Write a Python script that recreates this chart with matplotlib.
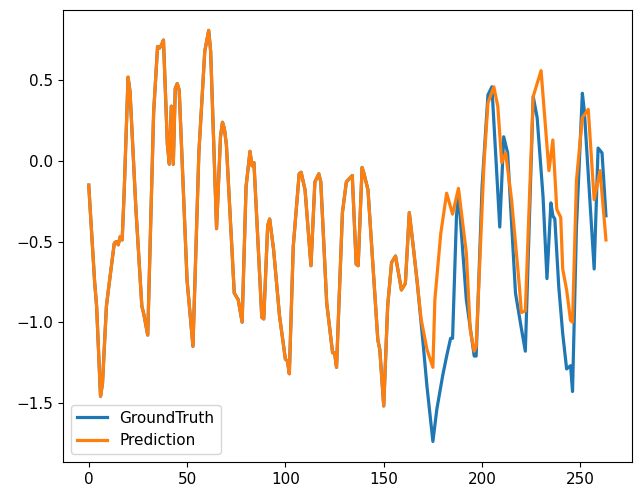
import numpy as np
import matplotlib
matplotlib.use("Agg")
import matplotlib.pyplot as plt

# shared part (both series overlap up to t=167)
shared_t = [0, 3, 4, 6, 7, 9, 10, 13, 14, 15, 16, 17, 18, 20, 21, 24, 27, 28, 30,
            33, 35, 36, 37, 38, 40, 41, 42, 43, 44, 45, 46, 50, 53, 56, 59, 61, 62,
            65, 67, 68, 69, 70, 74, 76, 78, 80, 82, 83, 84, 88, 89, 91, 92, 94, 97,
            100, 101, 102, 104, 107, 108, 110, 113, 115, 117, 118, 121, 124, 125,
            126, 129, 131, 134, 136, 137, 139, 140, 142, 147, 148, 150, 152, 154,
            156, 159, 161, 163, 165, 167]
shared_v = [-0.15, -0.75, -0.90, -1.46, -1.38, -0.90, -0.80, -0.51, -0.50, -0.52,
            -0.47, -0.49, -0.20, 0.52, 0.43, -0.30, -0.90, -0.95, -1.08,
            0.30, 0.71, 0.70, 0.72, 0.75, 0.10, -0.02, 0.34, -0.02, 0.45, 0.48, 0.44,
            -0.74, -1.15, 0.05, 0.68, 0.81, 0.68,
            -0.42, 0.15, 0.24, 0.20, 0.10, -0.82, -0.86, -1.00, -0.16, 0.06, -0.03,
            -0.01, -0.97, -0.98, -0.40, -0.36, -0.55, -0.96,
            -1.23, -1.24, -1.32, -0.53, -0.08, -0.07, -0.18, -0.65, -0.13, -0.08,
            -0.13, -0.88, -1.19, -1.19,
            -1.28, -0.32, -0.13, -0.09, -0.64, -0.65, -0.04, -0.08, -0.18, -1.11,
            -1.17, -1.52, -0.90, -0.63,
            -0.59, -0.80, -0.76, -0.32, -0.53, -0.75]

gt_tail_t = [170, 172, 175, 177, 180, 182, 184, 185, 187, 188, 192, 196, 197, 200,
             203, 205, 209, 211, 213, 217, 220, 222, 226, 228, 231, 233, 235, 236,
             237, 239, 241, 243, 245, 246, 248, 251, 252, 257, 259, 261, 263]
gt_tail_v = [-1.13, -1.40, -1.74, -1.54, -1.33, -1.21, -1.10, -1.10, -0.34, -0.20,
             -0.86, -1.21, -1.21, -0.16, 0.41, 0.46, -0.41, 0.15, 0.05, -0.82, -1.04,
             -1.18, 0.40, 0.27, -0.22, -0.73, -0.26, -0.34, -0.36, -0.78, -1.07,
             -1.29, -1.27, -1.43, -0.41, 0.42, 0.31, -0.67, 0.08, 0.05, -0.34]

pred_tail_t = [169, 172, 175, 176, 179, 182, 185, 188, 192, 194, 196, 197, 201, 203,
               206, 208, 210, 212, 215, 219, 220, 222, 226, 227, 230, 234, 236, 238,
               240, 241, 243, 245, 246, 248, 251, 254, 257, 260, 263]
pred_tail_v = [-0.98, -1.17, -1.28, -0.86, -0.45, -0.20, -0.33, -0.17, -0.57, -1.05,
               -1.18, -1.15, -0.01, 0.36, 0.46, 0.34, -0.01, 0.05, -0.24, -0.78, -0.94,
               -0.93, 0.40, 0.44, 0.56, -0.06, 0.13, -0.30, -0.35, -0.67, -0.80, -0.99,
               -1.00, -0.12, 0.27, 0.32, -0.24, -0.06, -0.49]

gt_t = shared_t + gt_tail_t
gt_v = shared_v + gt_tail_v
pred_t = shared_t + pred_tail_t
pred_v = shared_v + pred_tail_v

fig = plt.figure(figsize=(6.35, 4.91), dpi=100)
ax = fig.add_axes([0.099, 0.059, 0.896, 0.921])
ax.plot(gt_t, gt_v, label="GroundTruth", linewidth=2.3)
ax.plot(pred_t, pred_v, label="Prediction", linewidth=2.3)
ax.tick_params(labelsize=11)
ax.legend(loc="lower left", fontsize=11)
fig.savefig("out.png", dpi=100)
